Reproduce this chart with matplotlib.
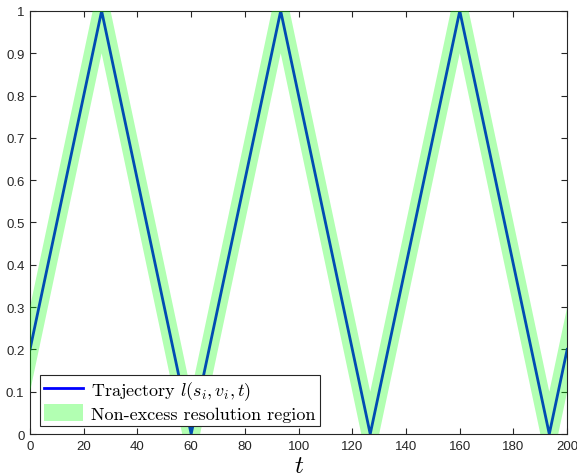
import numpy as np
import matplotlib
matplotlib.use("Agg")
import matplotlib.pyplot as plt
from matplotlib.ticker import FuncFormatter

plt.rcParams["mathtext.fontset"] = "cm"
plt.rcParams["font.family"] = "Liberation Sans"

# triangle-wave trajectory vertices and half-width of the band
t_pts = [0, 80 / 3, 60, 280 / 3, 380 / 3, 160, 580 / 3, 200]
l_pts = [0.2, 1.0, 0.0, 1.0, 0.0, 1.0, 0.0, 0.2]
band_half = 0.1

t = np.array(t_pts)
l = np.array(l_pts)

fig = plt.figure(figsize=(5.77, 4.77), dpi=100)
ax = fig.add_axes([0.052, 0.088, 0.931, 0.887])

line, = ax.plot(t, l, color=(0, 0, 1), lw=2.0, zorder=2)
band = ax.fill_between(t, l - band_half, l + band_half, color=(0, 1, 0),
                       alpha=0.3, lw=0, zorder=3)

ax.set_xlim(0, 200)
ax.set_ylim(0, 1)
ax.set_xticks(np.arange(0, 201, 20))
ax.set_yticks(np.arange(0, 1.01, 0.1))
ax.yaxis.set_major_formatter(FuncFormatter(lambda v, p: f"{v:.1f}".rstrip("0").rstrip(".") if v else "0"))

axcol = (0.15, 0.15, 0.15)
for s in ax.spines.values():
    s.set_color(axcol)
    s.set_linewidth(0.8)
ax.tick_params(direction="in", length=4.5, width=0.8, color=axcol,
               top=True, right=True, labelsize=9.5, labelcolor=axcol, pad=4)

ax.set_xlabel("$t$", fontsize=18, labelpad=1)

leg = ax.legend([line, band],
                ["Trajectory $l(s_i, v_i, t)$", "Non-excess resolution region"],
                loc="lower left", bbox_to_anchor=(0.018, 0.02),
                prop={"family": "cmr10", "size": 13},
                handlelength=2.2, handleheight=1.1, handletextpad=0.45,
                borderpad=0.22, labelspacing=0.1, borderaxespad=0,
                fancybox=False, framealpha=1, edgecolor=axcol)
leg.get_frame().set_linewidth(0.8)
leg.legend_handles[1].set_alpha(0.3)

fig.savefig("out.png", dpi=100)
